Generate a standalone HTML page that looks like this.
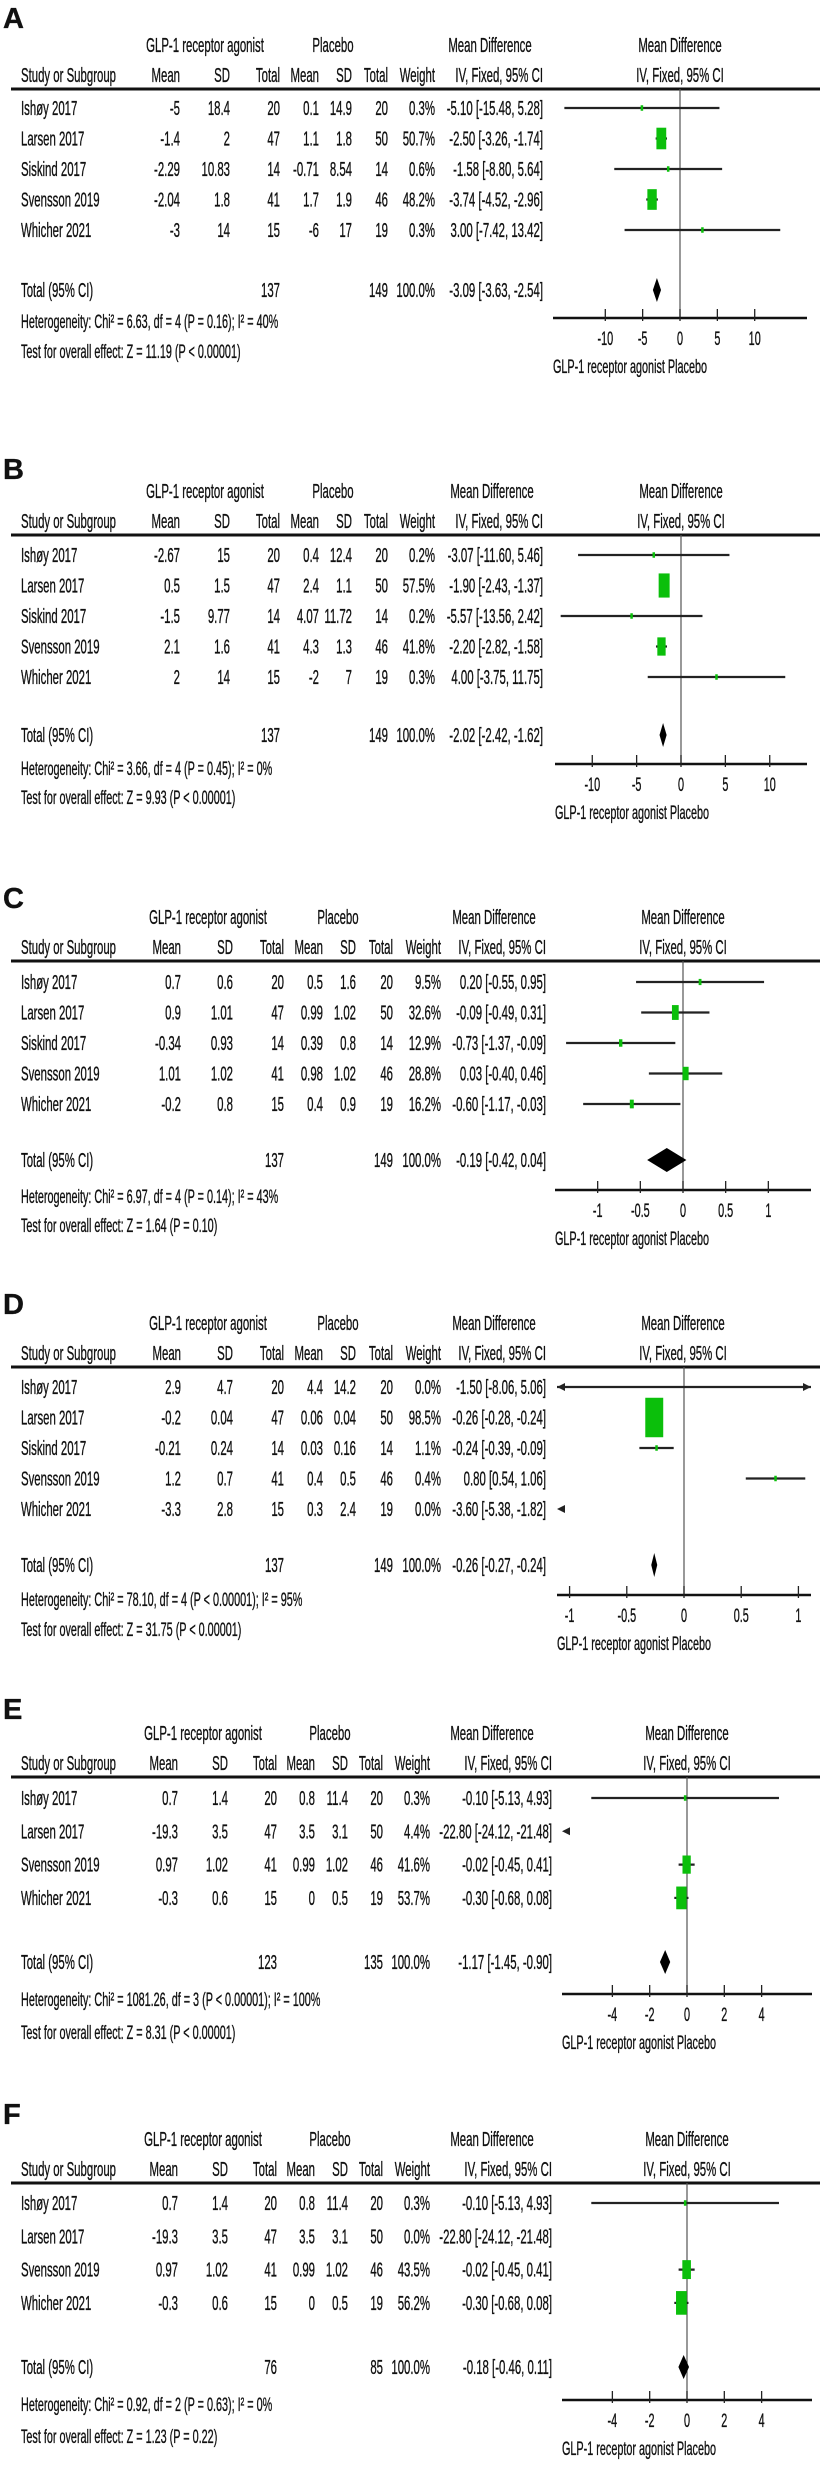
<!DOCTYPE html>
<html><head><meta charset="utf-8">
<style>
html,body{margin:0;padding:0;background:#fff;}
svg{display:block;}
text{font-family:"Liberation Sans",Arial,sans-serif;fill:#111;stroke:#111;stroke-width:0.35;}
</style></head>
<body>
<svg id="fig" xmlns="http://www.w3.org/2000/svg" width="831" height="2480" viewBox="0 0 831 2480">
<rect x="0" y="0" width="831" height="2480" fill="#fff"/>
</svg>
<script>
// ---------- Panel A data ----------
const A_studies=["Ishøy 2017","Larsen 2017","Siskind  2017","Svensson 2019","Whicher 2021"];
const A_gMean=["-5","-1.4","-2.29","-2.04","-3"];
const A_gSD=["18.4","2","10.83","1.8","14"];
const A_gN=["20","47","14","41","15"];
const A_pMean=["0.1","1.1","-0.71","1.7","-6"];
const A_pSD=["14.9","1.8","8.54","1.9","17"];
const A_pN=["20","50","14","46","19"];
const A_weight=[0.3,50.7,0.6,48.2,0.3];
const A_md=[-5.10,-2.50,-1.58,-3.74,3.00];
const A_lo=[-15.48,-3.26,-8.80,-4.52,-7.42];
const A_hi=[5.28,-1.74,5.64,-2.96,13.42];
const A_totN=["137","149"];
const A_tot=[-3.09,-3.63,-2.54];
const A_stats=["Heterogeneity: Chi² = 6.63, df = 4 (P = 0.16); I² = 40%","Test for overall effect: Z = 11.19 (P < 0.00001)"];
const A_ticks=[-10,-5,0,5,10];
// ---------- Panel B data ----------
const B_studies=["Ishøy 2017","Larsen 2017","Siskind  2017","Svensson 2019","Whicher 2021"];
const B_gMean=["-2.67","0.5","-1.5","2.1","2"];
const B_gSD=["15","1.5","9.77","1.6","14"];
const B_gN=["20","47","14","41","15"];
const B_pMean=["0.4","2.4","4.07","4.3","-2"];
const B_pSD=["12.4","1.1","11.72","1.3","7"];
const B_pN=["20","50","14","46","19"];
const B_weight=[0.2,57.5,0.2,41.8,0.3];
const B_md=[-3.07,-1.90,-5.57,-2.20,4.00];
const B_lo=[-11.60,-2.43,-13.56,-2.82,-3.75];
const B_hi=[5.46,-1.37,2.42,-1.58,11.75];
const B_totN=["137","149"];
const B_tot=[-2.02,-2.42,-1.62];
const B_stats=["Heterogeneity: Chi² = 3.66, df = 4 (P = 0.45); I² = 0%","Test for overall effect: Z = 9.93 (P < 0.00001)"];
const B_ticks=[-10,-5,0,5,10];
// ---------- Panel C data ----------
const C_studies=["Ishøy 2017","Larsen 2017","Siskind  2017","Svensson 2019","Whicher 2021"];
const C_gMean=["0.7","0.9","-0.34","1.01","-0.2"];
const C_gSD=["0.6","1.01","0.93","1.02","0.8"];
const C_gN=["20","47","14","41","15"];
const C_pMean=["0.5","0.99","0.39","0.98","0.4"];
const C_pSD=["1.6","1.02","0.8","1.02","0.9"];
const C_pN=["20","50","14","46","19"];
const C_weight=[9.5,32.6,12.9,28.8,16.2];
const C_md=[0.20,-0.09,-0.73,0.03,-0.60];
const C_lo=[-0.55,-0.49,-1.37,-0.40,-1.17];
const C_hi=[0.95,0.31,-0.09,0.46,-0.03];
const C_totN=["137","149"];
const C_tot=[-0.19,-0.42,0.04];
const C_stats=["Heterogeneity: Chi² = 6.97, df = 4 (P = 0.14); I² = 43%","Test for overall effect: Z = 1.64 (P = 0.10)"];
const C_ticks=[-1,-0.5,0,0.5,1];
// ---------- Panel D data ----------
const D_studies=["Ishøy 2017","Larsen 2017","Siskind  2017","Svensson 2019","Whicher 2021"];
const D_gMean=["2.9","-0.2","-0.21","1.2","-3.3"];
const D_gSD=["4.7","0.04","0.24","0.7","2.8"];
const D_gN=["20","47","14","41","15"];
const D_pMean=["4.4","0.06","0.03","0.4","0.3"];
const D_pSD=["14.2","0.04","0.16","0.5","2.4"];
const D_pN=["20","50","14","46","19"];
const D_weight=[0.0,98.5,1.1,0.4,0.0];
const D_md=[-1.50,-0.26,-0.24,0.80,-3.60];
const D_lo=[-8.06,-0.28,-0.39,0.54,-5.38];
const D_hi=[5.06,-0.24,-0.09,1.06,-1.82];
const D_totN=["137","149"];
const D_tot=[-0.26,-0.27,-0.24];
const D_stats=["Heterogeneity: Chi² = 78.10, df = 4 (P < 0.00001); I² = 95%","Test for overall effect: Z = 31.75 (P < 0.00001)"];
const D_ticks=[-1,-0.5,0,0.5,1];
// ---------- Panel E data ----------
const E_studies=["Ishøy 2017","Larsen 2017","Svensson 2019","Whicher 2021"];
const E_gMean=["0.7","-19.3","0.97","-0.3"];
const E_gSD=["1.4","3.5","1.02","0.6"];
const E_gN=["20","47","41","15"];
const E_pMean=["0.8","3.5","0.99","0"];
const E_pSD=["11.4","3.1","1.02","0.5"];
const E_pN=["20","50","46","19"];
const E_weight=[0.3,4.4,41.6,53.7];
const E_md=[-0.10,-22.80,-0.02,-0.30];
const E_lo=[-5.13,-24.12,-0.45,-0.68];
const E_hi=[4.93,-21.48,0.41,0.08];
const E_totN=["123","135"];
const E_tot=[-1.17,-1.45,-0.90];
const E_stats=["Heterogeneity: Chi² = 1081.26, df = 3 (P < 0.00001); I² = 100%","Test for overall effect: Z = 8.31 (P < 0.00001)"];
const E_ticks=[-4,-2,0,2,4];
// ---------- Panel F data ----------
const F_studies=["Ishøy 2017","Larsen 2017","Svensson 2019","Whicher 2021"];
const F_gMean=["0.7","-19.3","0.97","-0.3"];
const F_gSD=["1.4","3.5","1.02","0.6"];
const F_gN=["20","47","41","15"];
const F_pMean=["0.8","3.5","0.99","0"];
const F_pSD=["11.4","3.1","1.02","0.5"];
const F_pN=["20","50","46","19"];
const F_weight=[0.3,0.0,43.5,56.2];
const F_md=[-0.10,-22.80,-0.02,-0.30];
const F_lo=[-5.13,-24.12,-0.45,-0.68];
const F_hi=[4.93,-21.48,0.41,0.08];
const F_totN=["76","85"];
const F_tot=[-0.18,-0.46,0.11];
const F_stats=["Heterogeneity: Chi² = 0.92, df = 2 (P = 0.63); I² = 0%","Test for overall effect: Z = 1.23 (P = 0.22)"];
const F_ticks=[-4,-2,0,2,4];

const NS="http://www.w3.org/2000/svg";
const svg=document.getElementById('fig');
const SX=0.57;

function mk(tag,attrs,parent){
  const e=document.createElementNS(NS,tag);
  for(const k in attrs) e.setAttribute(k,attrs[k]);
  (parent||svg).appendChild(e);
  return e;
}
function T(g,x,y,s,anchor,size,name){
  const t=mk('text',{transform:`translate(${x},${y}) scale(${SX},1)`,'text-anchor':anchor||'start','font-size':size||20},g);
  
  
  t.textContent=s;
  return t;
}
function fmt(v){return v.toFixed(2);}

function drawPanel(L,studies,gMean,gSD,gN,pMean,pSD,pN,weight,md,lo,hi,totN,tot,stats,ticks){
  const g=mk('g',{});
  
  
  const Y=L.line;
  const unit=(L.right-L.zero)/L.range;
  const xs=v=>L.zero+v*unit;
  const xmin=L.zero-L.range*unit, xmax=L.right;
  const lt=mk('text',{x:3,y:Y+L.labelOff+11,'font-size':29,'font-weight':'bold',fill:'#000'},g);
  
  
  lt.textContent=L.key;
  const hy1=Y-44+7, hy2=Y-14+7;
  T(g,L.grp[0],hy1,"GLP-1 receptor agonist",'middle',20,'treatment-group-header');
  T(g,L.grp[1],hy1,"Placebo",'middle',20,'placebo-group-header');
  T(g,L.grp[2],hy1,"Mean Difference",'middle',20,'md-column-header');
  T(g,L.grp[3],hy1,"Mean Difference",'middle',20,'plot-header');
  T(g,21,hy2,"Study or Subgroup",'start',20,'study-column-header');
  const hdr=["Mean","SD","Total","Mean","SD","Total","Weight","IV, Fixed, 95% CI"];
  hdr.forEach((h,i)=>T(g,L.cols[i],hy2,h,'end',20,'column-header'));
  T(g,L.grp[3],hy2,"IV, Fixed, 95% CI",'middle',20,'plot-subheader');
  const hl=mk('line',{x1:11,x2:820,y1:Y,y2:Y,stroke:'#111','stroke-width':3},g);
  
  
  const axisY=Y+L.axisOff;
  const zl=mk('line',{x1:L.zero,x2:L.zero,y1:Y,y2:axisY,stroke:'#555','stroke-width':1.2},g);
  
  
  studies.forEach((s,i)=>{
    const cy=Y+L.rowStart+i*L.rowGap;
    const by=cy+7;
    T(g,21,by,s,'start',20,'study-name');
    const vals=[gMean[i],gSD[i],gN[i],pMean[i],pSD[i],pN[i],weight[i].toFixed(1)+"%",fmt(md[i])+" ["+fmt(lo[i])+", "+fmt(hi[i])+"]"];
    vals.forEach((v,j)=>T(g,L.cols[j],by,v,'end',20,'table-cell'));
    if(L.hidden && L.hidden.includes(i)) return;
    const a=Math.max(lo[i],-L.range), b=Math.min(hi[i],L.range);
    if(a<b){
      const ci=mk('line',{x1:xs(a),x2:xs(b),y1:cy,y2:cy,stroke:'#222','stroke-width':2.2},g);
      
      
    }
    if(lo[i]<-L.range){
      const ah=mk('polygon',{points:`${xmin},${cy} ${xmin+8},${cy-4} ${xmin+8},${cy+4}`,fill:'#222'},g);
      
      
    }
    if(hi[i]>L.range){
      const ah=mk('polygon',{points:`${xmax},${cy} ${xmax-8},${cy-4} ${xmax-8},${cy+4}`,fill:'#222'},g);
      
      
    }
    if(weight[i]>0 && Math.abs(md[i])<=L.range){
      const w=Math.max(2.5,0.17*weight[i]+1.2), h=Math.max(4,2.2*w);
      const bx=mk('rect',{x:xs(md[i])-w/2,y:cy-h/2,width:w,height:h,fill:'#0bbf0b'},g);
      
      
    }
  });
  const ty=Y+L.totalOff;
  T(g,21,ty+7,"Total (95% CI)",'start',20,'total-label');
  T(g,L.cols[2],ty+7,totN[0],'end',20,'total-n-treatment');
  T(g,L.cols[5],ty+7,totN[1],'end',20,'total-n-placebo');
  T(g,L.cols[6],ty+7,"100.0%",'end',20,'total-weight');
  T(g,L.cols[7],ty+7,fmt(tot[0])+" ["+fmt(tot[1])+", "+fmt(tot[2])+"]",'end',20,'total-ci');
  let dl=xs(tot[1]), dr=xs(tot[2]), dm=xs(tot[0]);
  if(dr-dl<6){dl=dm-3;dr=dm+3;}
  const dia=mk('polygon',{points:`${dl},${ty} ${dm},${ty-12} ${dr},${ty} ${dm},${ty+12}`,fill:'#000'},g);
  
  
  T(g,21,Y+L.hetOff+6,stats[0],'start',19,'heterogeneity-text');
  T(g,21,Y+L.testOff+6,stats[1],'start',19,'overall-effect-text');
  const ax=mk('line',{x1:xmin,x2:xmax,y1:axisY,y2:axisY,stroke:'#111','stroke-width':2.5},g);
  
  
  ticks.forEach(tv=>{
    const tk=mk('line',{x1:xs(tv),x2:xs(tv),y1:axisY-9,y2:axisY+3,stroke:'#222','stroke-width':1.3},g);
    
    
    T(g,xs(tv),axisY+27,String(tv),'middle',19,'x-tick-label');
  });
  T(g,xmin,axisY+55,"GLP-1 receptor agonist  Placebo",'start',19,'x-axis-title');
}

const colsAB=[180,230,280,319,352,388,435,543];
const colsCD=[181,233,284,323,356,393,441,546];
const colsEF=[178,228,277,315,348,383,430,552];
const LA={key:'A',line:89,labelOff:-72,rowStart:19,rowGap:30.5,totalOff:201,axisOff:229,hetOff:233,testOff:263,cols:colsAB,grp:[205,333,490,680],zero:680,right:807,range:17};
const LB={key:'B',line:535,labelOff:-67,rowStart:20,rowGap:30.5,totalOff:200,axisOff:229,hetOff:234,testOff:263,cols:colsAB,grp:[205,333,492,681],zero:681,right:807,range:14.2};
const LC={key:'C',line:961,labelOff:-64,rowStart:21,rowGap:30.5,totalOff:199,axisOff:229,hetOff:236,testOff:265,cols:colsCD,grp:[208,338,494,683],zero:683,right:811,range:1.5};
const LD={key:'D',line:1367,labelOff:-64,rowStart:20,rowGap:30.5,totalOff:198,axisOff:228,hetOff:233,testOff:263,cols:colsCD,grp:[208,338,494,683],zero:684,right:811,range:1.11};
const LE={key:'E',line:1777,labelOff:-69,rowStart:21,rowGap:33.3,totalOff:185,axisOff:217,hetOff:223,testOff:256,cols:colsEF,grp:[203,330,492,687],zero:687,right:812,range:6.7};
const LF={key:'F',line:2183,labelOff:-70,rowStart:20,rowGap:33.3,totalOff:184,axisOff:217,hetOff:222,testOff:254,cols:colsEF,grp:[203,330,492,687],zero:687,right:812,range:6.7,hidden:[1]};

drawPanel(LA,A_studies,A_gMean,A_gSD,A_gN,A_pMean,A_pSD,A_pN,A_weight,A_md,A_lo,A_hi,A_totN,A_tot,A_stats,A_ticks);
drawPanel(LB,B_studies,B_gMean,B_gSD,B_gN,B_pMean,B_pSD,B_pN,B_weight,B_md,B_lo,B_hi,B_totN,B_tot,B_stats,B_ticks);
drawPanel(LC,C_studies,C_gMean,C_gSD,C_gN,C_pMean,C_pSD,C_pN,C_weight,C_md,C_lo,C_hi,C_totN,C_tot,C_stats,C_ticks);
drawPanel(LD,D_studies,D_gMean,D_gSD,D_gN,D_pMean,D_pSD,D_pN,D_weight,D_md,D_lo,D_hi,D_totN,D_tot,D_stats,D_ticks);
drawPanel(LE,E_studies,E_gMean,E_gSD,E_gN,E_pMean,E_pSD,E_pN,E_weight,E_md,E_lo,E_hi,E_totN,E_tot,E_stats,E_ticks);
drawPanel(LF,F_studies,F_gMean,F_gSD,F_gN,F_pMean,F_pSD,F_pN,F_weight,F_md,F_lo,F_hi,F_totN,F_tot,F_stats,F_ticks);
</script>
</body></html>
